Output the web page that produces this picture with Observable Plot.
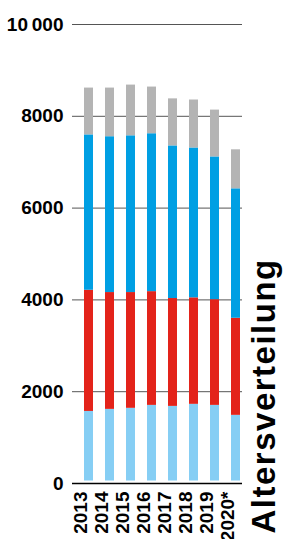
<!DOCTYPE html>
<html><head><meta charset="utf-8">
<script src="https://cdn.jsdelivr.net/npm/d3@7"></script>
<script src="https://cdn.jsdelivr.net/npm/@observablehq/plot@0.6"></script>
<style>
body{margin:0;background:#fff;}
svg{font-family:"Liberation Sans",Arial,sans-serif;}
</style>
</head><body><div id="chart"></div>
<script>
const years = ["2013","2014","2015","2016","2017","2018","2019","2020"];
const yearLabels = ["2013","2014","2015","2016","2017","2018","2019","2020*"];
const series = ["Gruppe 1","Gruppe 2","Gruppe 3","Gruppe 4"];
const seriesColors = ["#86CEF4","#E3231A","#009FE3","#B4B4B4"];
const group1 = [1570, 1615, 1638, 1702, 1680, 1725, 1702, 1485];
const group2 = [2640, 2545, 2522, 2478, 2350, 2320, 2303, 2115];
const group3 = [3385, 3395, 3415, 3440, 3325, 3265, 3110, 2820];
const group4 = [1020, 1060, 1105, 1017, 1025, 1045, 1020, 850];
const yTicks = [0, 2000, 4000, 6000, 8000, 10000];
const yTickLabels = ["0","2000","4000","6000","8000","10\u2009000"];
const title = "Altersverteilung";

const values = [group1, group2, group3, group4];
const rows = [];
years.forEach((yr, i) => {
  let base = 0;
  values.forEach((vals, s) => {
    rows.push({year: yr, series: series[s], y1: base, y2: base + vals[i], first: s === 0});
    base += vals[i];
  });
});

const plot = Plot.plot({
  width: 295, height: 539,
  marginTop: 24, marginBottom: 56, marginLeft: 72, marginRight: 53,
  x: {domain: years, paddingInner: 0.58, paddingOuter: 0.255, align: 0.82, axis: null},
  y: {domain: [0, 10000], axis: null},
  color: {domain: series, range: seriesColors},
  marks: [
    Plot.ruleY(yTicks.filter(d => d > 0), {stroke: "#555", strokeWidth: 1}),
    Plot.barY(rows.filter(d => d.first), {x: "year", y1: "y1", y2: "y2", fill: "series", insetBottom: 2.5}),
    Plot.barY(rows.filter(d => !d.first), {x: "year", y1: "y1", y2: "y2", fill: "series"}),
    Plot.ruleY([0], {stroke: "#000", strokeWidth: 1.5}),
    Plot.text(yTicks, {y: d => d, text: (d, i) => yTickLabels[i], frameAnchor: "left", textAnchor: "end", dx: -9, fontSize: 19, fontWeight: "bold", fill: "#000"}),
    Plot.text(years, {x: d => d, text: (d, i) => yearLabels[i], frameAnchor: "bottom", rotate: -90, textAnchor: "end", dx: -2.5, dy: 8, fontSize: 19, fontWeight: "bold", fill: "#000"}),
    Plot.text([title], {frameAnchor: "bottom-right", rotate: -90, textAnchor: "start", dx: 32, dy: 50, fontSize: 33, fontWeight: "bold", fill: "#000"})
  ]
});
d3.select(plot).selectAll("text").filter(function() { return this.textContent === title; }).style("letter-spacing", "1.5px");
document.getElementById("chart").appendChild(plot);
</script>
</body></html>
